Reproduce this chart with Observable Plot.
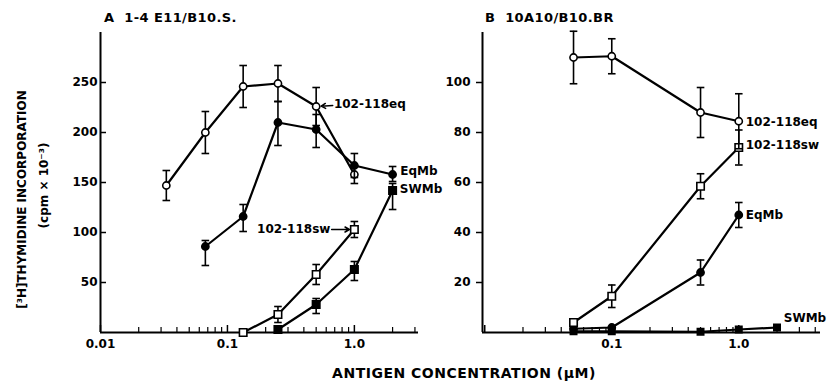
<!DOCTYPE html>
<html>
<head>
<meta charset="utf-8">
<script src="https://cdn.jsdelivr.net/npm/d3@7"></script>
<script src="https://cdn.jsdelivr.net/npm/@observablehq/plot@0.6"></script>
<style>
  html, body { margin: 0; padding: 0; background: white; }
  #chart { position: relative; width: 833px; height: 387px; background: white; overflow: hidden;
           font-family: 'DejaVu Sans', sans-serif; font-weight: bold; color: black; }
  .panel { position: absolute; top: 0; }
  .title { position: absolute; z-index: 5; font-size: 13px; letter-spacing: 0.4px; white-space: pre; line-height: 1; }
  .xlabel { position: absolute; z-index: 5; font-size: 14px; letter-spacing: 0.5px; white-space: pre; line-height: 1;
            transform: translate(-50%, -50%); }
</style>
</head>
<body>
<div id="chart">
  <div class="title" id="titleA" style="left:104px; top:11px;"></div>
  <div class="title" id="titleB" style="left:485px; top:11px;"></div>
  <div class="xlabel" id="xlabel" style="left:464px; top:373px;"></div>
</div>
<script>
// ---------- Text ----------
const titleA = "A  1-4 E11/B10.S.";
const titleB = "B  10A10/B10.BR";
const xAxisLabel = "ANTIGEN CONCENTRATION (\u00b5M)";
const yAxisLabel1 = "[\u00b3H]THYMIDINE INCORPORATION";
const yAxisLabel2 = "(cpm \u00d7 10\u207b\u00b3)";

// ---------- Panel A: 1-4 E11/B10.S. ----------
const xDomainA = [0.01, 3.2];
const yDomainA = [0, 300];
const yTicksA = [50, 100, 150, 200, 250];
const xMajorA = [0.01, 0.1, 1];
const xMajorLabelsA = ["0.01", "0.1", "1.0"];
const xMinorA = [0.02,0.03,0.04,0.05,0.06,0.07,0.08,0.09,0.2,0.3,0.4,0.5,0.6,0.7,0.8,0.9,2,3];

const concA_eqPep = [0.033, 0.067, 0.133, 0.25, 0.5, 1.0];
const respA_eqPep = [147, 200, 246, 249, 226, 158];
const errA_eqPep  = [15, 21, 21, 18, 19, 9];

const concA_EqMb = [0.067, 0.133, 0.25, 0.5, 1.0, 2.0];
const respA_EqMb = [86, 116, 210, 203, 167, 158];
const loA_EqMb   = [67, 101, 187, 185, 155, 151];
const hiA_EqMb   = [92, 128, 231, 218, 179, 166];

const concA_swPep = [0.133, 0.25, 0.5, 1.0];
const respA_swPep = [0, 18, 58, 103];
const errA_swPep  = [null, 8, 10, 8];

const concA_SWMb = [0.25, 0.5, 1.0, 2.0];
const respA_SWMb = [3, 28, 63, 142];
const loA_SWMb   = [null, 19, 52, 123];
const hiA_SWMb   = [null, 34, 71, 149];

const labelTextA   = ["102-118eq", "EqMb", "SWMb", "102-118sw"];
const labelXA      = [0.69, 2.3, 2.28, 0.647];
const labelYA      = [228, 161, 143, 103];
const labelAnchorA = ["start", "start", "start", "end"];
const arrowFromXA = [0.675, 0.662];
const arrowFromYA = [227, 103];
const arrowToXA   = [0.5, 1.0];
const arrowToYA   = [226, 103];

// ---------- Panel B: 10A10/B10.BR ----------
const xDomainB = [0.0096, 4.4];
const yDomainB = [0, 120];
const yTicksB = [20, 40, 60, 80, 100];
const xMajorB = [0.01, 0.1, 1];
const xMajorLabB = [0.1, 1];
const xMajorLabelsB = ["0.1", "1.0"];
const xMinorB = [0.02,0.03,0.04,0.05,0.06,0.07,0.08,0.09,0.2,0.3,0.4,0.5,0.6,0.7,0.8,0.9,2,3,4];

const concB_eqPep = [0.05, 0.1, 0.5, 1.0];
const respB_eqPep = [110, 110.5, 88, 84.5];
const errB_eqPep  = [10.5, 7, 10, 11];

const concB_swPep = [0.05, 0.1, 0.5, 1.0];
const respB_swPep = [4, 14.5, 58.5, 74];
const errB_swPep  = [null, 4.5, 5, 7];

const concB_EqMb = [0.05, 0.1, 0.5, 1.0];
const respB_EqMb = [1.5, 2, 24, 47];
const errB_EqMb  = [null, null, 5, 5];

const concB_SWMb = [0.05, 0.1, 0.5, 1.0, 2.0];
const respB_SWMb = [0.5, 0.5, 0.3, 1.2, 2];

const labelTextB = ["102-118eq", "102-118sw", "EqMb", "SWMb"];
const labelXB    = [1.0, 1.0, 1.0, 2.26];
const labelYB    = [84, 75, 47, 5.6];
const labelDxB   = [7, 7, 7, 0];

// ---------- helpers ----------
const pts = (xs, ys) => xs.map((x, i) => ({x, y: ys[i]}));
const errSym = (xs, ys, es) => xs.map((x, i) => es[i] == null ? null : ({x, lo: ys[i] - es[i], hi: ys[i] + es[i]})).filter(Boolean);
const errAsym = (xs, lo, hi) => xs.map((x, i) => lo[i] == null ? null : ({x, lo: lo[i], hi: hi[i]})).filter(Boolean);
const capSymbol = {
  draw(ctx, size) { const r = Math.sqrt(size / Math.PI); ctx.moveTo(-r, 0); ctx.lineTo(r, 0); }
};

function seriesMarks(data, errs, symbol, fill, r) {
  return [
    Plot.line(data, {x: "x", y: "y", stroke: "black", strokeWidth: 2.2}),
    Plot.ruleX(errs, {x: "x", y1: "lo", y2: "hi", stroke: "black", strokeWidth: 1.6}),
    Plot.dot(errs, {x: "x", y: "lo", symbol: capSymbol, r: 3.8, stroke: "black", strokeWidth: 1.6}),
    Plot.dot(errs, {x: "x", y: "hi", symbol: capSymbol, r: 3.8, stroke: "black", strokeWidth: 1.6}),
    Plot.dot(data, {x: "x", y: "y", symbol, r, fill, stroke: "black", strokeWidth: 1.6})
  ];
}

// inward axis ticks drawn as short rules anchored at the frame's bottom edge
function xTicks(values, len, frameH, sw) {
  return Plot.ruleX(values, {x: d => d, insetTop: frameH - len, stroke: "black", strokeWidth: sw});
}
function xTickLabels(values, labels) {
  const lab = new Map(values.map((v, i) => [v, labels[i]]));
  return Plot.text(values, {x: d => d, text: d => lab.get(d), frameAnchor: "bottom", lineAnchor: "top", dy: 7,
                            fontSize: 12, fontWeight: "bold"});
}

const baseStyle = "font-family: 'DejaVu Sans', sans-serif; font-size: 12px; font-weight: bold; background: transparent; overflow: visible; color: black;";

const HA = 360, MT = 32, MB = 28;
const frameH = HA - MT - MB;

// ---------- Plot A ----------
const WA = 420, MLA = 100, MRA = 2;
const plotA = Plot.plot({
  width: WA, height: HA,
  marginLeft: MLA, marginRight: MRA, marginTop: MT, marginBottom: MB,
  x: {type: "log", domain: xDomainA, axis: null},
  y: {domain: yDomainA},
  style: baseStyle,
  marks: [
    Plot.ruleY(yTicksA, {y: d => d, insetRight: (WA - MLA - MRA) - 6, stroke: "black", strokeWidth: 1.5}),
    Plot.axisY(yTicksA, {tickSize: 0, tickPadding: 3, label: null}),
    xTicks(xMinorA, 5, frameH, 1.2),
    xTicks(xMajorA, 7, frameH, 1.5),
    xTickLabels(xMajorA, xMajorLabelsA),
    Plot.ruleX([xDomainA[0]], {stroke: "black", strokeWidth: 2}),
    Plot.ruleY([yDomainA[0]], {stroke: "black", strokeWidth: 2}),
    ...seriesMarks(pts(concA_eqPep, respA_eqPep), errSym(concA_eqPep, respA_eqPep, errA_eqPep), "circle", "white", 3.6),
    ...seriesMarks(pts(concA_EqMb, respA_EqMb), errAsym(concA_EqMb, loA_EqMb, hiA_EqMb), "circle", "black", 3.6),
    ...seriesMarks(pts(concA_swPep, respA_swPep), errSym(concA_swPep, respA_swPep, errA_swPep), "square", "white", 4.2),
    ...seriesMarks(pts(concA_SWMb, respA_SWMb), errAsym(concA_SWMb, loA_SWMb, hiA_SWMb), "square", "black", 4.2),
    Plot.arrow(arrowFromXA.map((x, i) => ({x1: x, y1: arrowFromYA[i], x2: arrowToXA[i], y2: arrowToYA[i]})),
      {x1: "x1", y1: "y1", x2: "x2", y2: "y2", stroke: "black", strokeWidth: 1.5, headLength: 5, insetEnd: 5}),
    Plot.text(labelTextA.map((t, i) => ({t, x: labelXA[i], y: labelYA[i], a: labelAnchorA[i]})).filter(d => d.a === "start"),
      {x: "x", y: "y", text: "t", textAnchor: "start", fontSize: 12, fontWeight: "bold"}),
    Plot.text(labelTextA.map((t, i) => ({t, x: labelXA[i], y: labelYA[i], a: labelAnchorA[i]})).filter(d => d.a === "end"),
      {x: "x", y: "y", text: "t", textAnchor: "end", fontSize: 12, fontWeight: "bold"}),
    Plot.text([yAxisLabel1], {frameAnchor: "left", textAnchor: "middle", rotate: -90, dx: -78, dy: 17, text: d => d, fontSize: 12, fontWeight: "bold"}),
    Plot.text([yAxisLabel2], {frameAnchor: "left", textAnchor: "middle", rotate: -90, dx: -56, dy: 3, text: d => d, fontSize: 12, fontWeight: "bold"})
  ]
});

// ---------- Plot B ----------
const WB = 413, MLB = 62, MRB = 13;
const plotB = Plot.plot({
  width: WB, height: HA,
  marginLeft: MLB, marginRight: MRB, marginTop: MT, marginBottom: MB,
  x: {type: "log", domain: xDomainB, axis: null},
  y: {domain: yDomainB},
  style: baseStyle,
  marks: [
    Plot.axisY(yTicksB, {tickSize: 6, tickPadding: 6, strokeWidth: 1.5, label: null}),
    xTicks(xMinorB, 5, frameH, 1.2),
    xTicks(xMajorB, 7, frameH, 1.5),
    xTickLabels(xMajorLabB, xMajorLabelsB),
    Plot.ruleX([xDomainB[0]], {stroke: "black", strokeWidth: 2}),
    Plot.ruleY([yDomainB[0]], {stroke: "black", strokeWidth: 2}),
    ...seriesMarks(pts(concB_SWMb, respB_SWMb), [], "square", "black", 3.6),
    ...seriesMarks(pts(concB_EqMb, respB_EqMb), errSym(concB_EqMb, respB_EqMb, errB_EqMb), "circle", "black", 3.6),
    ...seriesMarks(pts(concB_swPep, respB_swPep), errSym(concB_swPep, respB_swPep, errB_swPep), "square", "white", 4.2),
    ...seriesMarks(pts(concB_eqPep, respB_eqPep), errSym(concB_eqPep, respB_eqPep, errB_eqPep), "circle", "white", 3.6),
    Plot.text(labelTextB.map((t, i) => ({t, x: labelXB[i], y: labelYB[i], dx: labelDxB[i]})).filter(d => d.dx > 0),
      {x: "x", y: "y", text: "t", dx: 7, textAnchor: "start", fontSize: 12, fontWeight: "bold"}),
    Plot.text(labelTextB.map((t, i) => ({t, x: labelXB[i], y: labelYB[i], dx: labelDxB[i]})).filter(d => d.dx === 0),
      {x: "x", y: "y", text: "t", textAnchor: "start", fontSize: 12, fontWeight: "bold"})
  ]
});

const chart = document.getElementById("chart");
plotB.classList.add("panel"); plotB.style.left = "420px";
plotA.classList.add("panel"); plotA.style.left = "0px";
chart.appendChild(plotB);
chart.appendChild(plotA);
document.getElementById("titleA").textContent = titleA;
document.getElementById("titleB").textContent = titleB;
document.getElementById("xlabel").textContent = xAxisLabel;
</script>
</body>
</html>
